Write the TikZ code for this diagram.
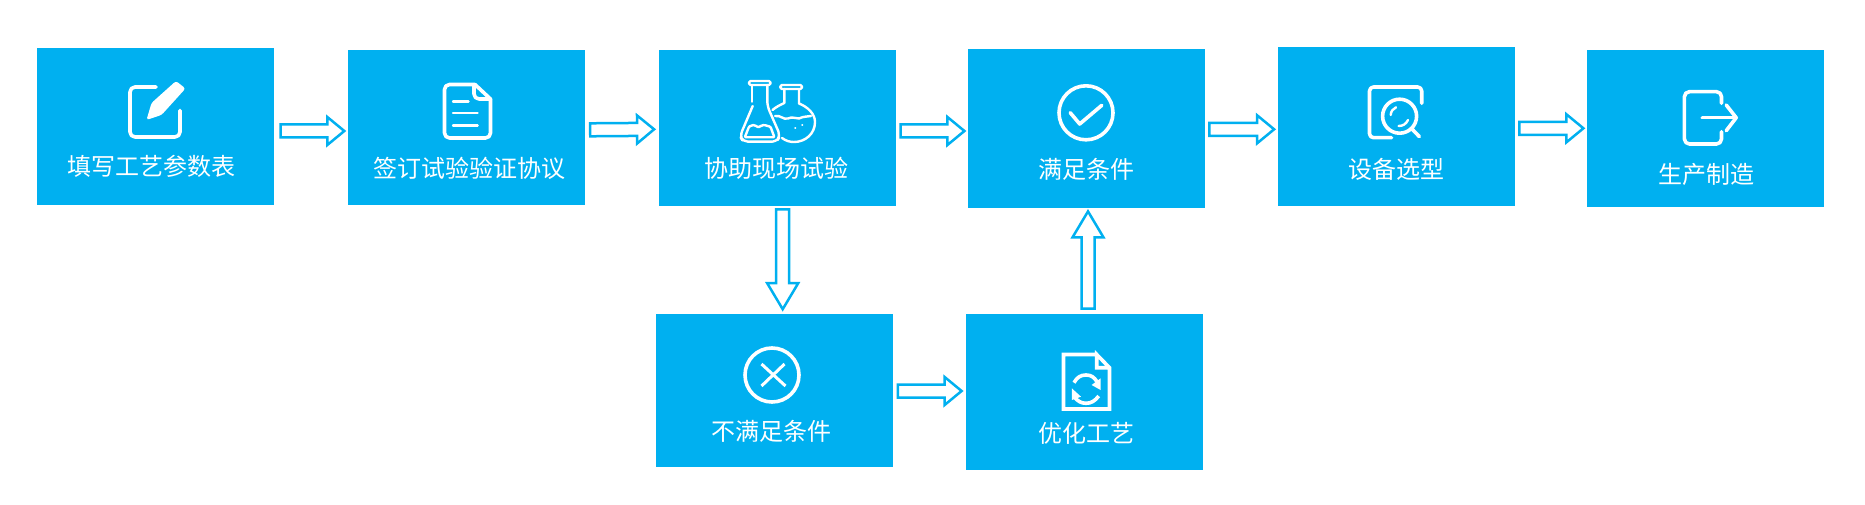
\documentclass[tikz,border=0pt]{standalone}
\usepackage{fontspec}
\newfontfamily\cjk{Noto Sans CJK SC}
\usetikzlibrary{calc}
\definecolor{flowblue}{HTML}{00B0F0}
\tikzset{
    stepbox/.style={fill=flowblue,minimum width=237pt,inner sep=0pt},
    steplabel/.style={text=white,font=\cjk\fontsize{24pt}{28pt}\selectfont,inner sep=0pt},
    iconline/.style={draw=white,line width=3.6pt,line cap=round,line join=round},
    iconthin/.style={draw=white,line width=2.4pt,line cap=round,line join=round},
    flowarrow/.style n args={2}{draw=flowblue,fill=white,line width=2.5pt,miter limit=10,
        to path={let \p1=($(\tikztotarget)!#1!(\tikztostart)$) in
            -- ($(\tikztostart)!6.5pt!90:(\tikztotarget)$)
            -- ($(\p1)!6.5pt!90:(\tikztotarget)$)
            -- ($(\p1)!#2!90:(\tikztotarget)$)
            -- (\tikztotarget)
            -- ($(\p1)!#2!-90:(\tikztotarget)$)
            -- ($(\p1)!6.5pt!-90:(\tikztotarget)$)
            -- ($(\tikztostart)!6.5pt!-90:(\tikztotarget)$)
            -- cycle}},
    hflow/.style={flowarrow={17pt}{14pt}},
    vflow/.style={flowarrow={26pt}{15.5pt}}
}
\begin{document}
\begin{tikzpicture}[x=1pt,y=-1pt]
    \path[use as bounding box,fill=white] (0,0) rectangle (1865,505);

    % 方框与文字
    \foreach \name/\x/\y/\h/\tx/\ty/\txt in {
        fill/155.5/126.3/156.6/151/166/填写工艺参数表,
        sign/466.5/127.3/154.6/469/168.7/签订试验验证协议,
        assist/777.5/127.8/155.6/776.4/168.7/协助现场试验,
        meet/1086.5/128.3/158.6/1086/169/满足条件,
        select/1396.5/126.3/158.6/1396.6/169/设备选型,
        make/1705.5/128.3/156.6/1706/174.7/生产制造,
        fail/774.5/390.3/152.6/771.7/431.7/不满足条件,
        optimize/1084.5/391.8/155.6/1086.4/433.7/优化工艺}{
        \node[stepbox,minimum height=\h pt] (\name) at (\x,\y) {};
        \node[steplabel] (\name text) at (\tx,\ty) {\txt};
    }

    % 箭头
    \draw[hflow] ($(fill.east)+(6.5,4.7)$) to ($(sign.west)+(-3.5,3.7)$);
    \draw[hflow] ($(sign.east)+(5,2.5)$) to ($(assist.west)+(-4.7,1.5)$);
    \draw[hflow] ($(assist.east)+(4.4,3.2)$) to ($(meet.west)+(-3.4,2.7)$);
    \draw[hflow] ($(meet.east)+(4.2,1)$) to ($(select.west)+(-3.7,3)$);
    \draw[hflow] ($(select.east)+(4.2,2)$) to ($(make.west)+(-3.4,0)$);
    \draw[vflow] ($(assist.south)+(5.2,3.7)$) to ($(fail.north)+(8.2,-4.6)$);
    \draw[hflow] ($(fail.east)+(4.6,0.7)$) to ($(optimize.west)+(-4.2,-0.8)$);
    \draw[vflow] ($(optimize.north)+(3.5,-5.3)$) to ($(meet.south)+(1.5,3.6)$);

    % 填写图标
    \draw[iconline,rounded corners=5pt] (156,87) -- (130,87) -- (130,137) -- (180,137) -- (180,110.5);
    \fill[white,rounded corners=2.5pt] (146.5,120) -- (151.5,103) -- (176,81) -- (185.5,88.5) -- (161.5,115) -- cycle;

    % 文件图标
    \draw[iconline,rounded corners=5pt] (475,84.5) -- (444.5,84.5) -- (444.5,138) -- (490.5,138) -- (490.5,99);
    \draw[iconline] (475,84.5) -- (490.5,99);
    \draw[iconline,rounded corners=5pt] (474,85) -- (474,99) -- (490.5,99);
    \draw[iconthin] (453,101.7) -- (468.5,101.7);
    \draw[iconthin] (453,113.3) -- (477.6,113.3);
    \draw[iconthin] (453,125.7) -- (477.6,125.7);

    % 烧瓶图标
    \draw[iconthin,rounded corners=1.5pt] (749,81) rectangle (770.5,85);
    \draw[iconthin] (752,85) -- (752,101.7);
    \draw[iconthin,rounded corners=5pt] (752.7,106) -- (740,136) -- (743,141.7) -- (776.4,141.7) -- (780.4,136) -- (767.3,106) -- (767.3,85);
    \draw[iconthin,rounded corners=1pt] (744.8,137.3) -- (749,126.7) .. controls (755,123) and (757,128) .. (760,126.5) .. controls (764,124) and (767,126) .. (770.5,126.7) -- (774.4,137.3) -- cycle;
    \draw[iconthin,rounded corners=1.5pt] (780.4,85) rectangle (802,89);
    \draw[iconthin] (784.3,89) -- (784.3,103) .. controls (780,105) and (776,107) .. (772.5,110);
    \draw[iconthin] (799,89) -- (799,103.5) .. controls (808,107) and (815,114) .. (815,122) .. controls (815,134) and (805,142) .. (794,142) .. controls (790,142) and (786,141) .. (782,138);
    \draw[iconthin] (775,116) .. controls (781,115) and (783,120) .. (788,118.5) .. controls (793,116) and (795,119) .. (799,118.5) .. controls (804,116) and (807,117) .. (811,116);
    \draw[iconthin,line width=1.5pt] (795,128) -- (795.5,128);
    \draw[iconthin,line width=1.5pt] (802,125) -- (802.5,125);

    % 满足图标
    \draw[iconline] (1086,112.8) circle[radius=27];
    \draw[iconline] (1070.2,112.7) -- (1079.7,124) -- (1101.8,105.3);

    % 选型图标
    \draw[iconline,rounded corners=4pt] (1391.5,137.7) -- (1369.5,137.7) -- (1369.5,87) -- (1421.7,87) -- (1421.7,103.3);
    \draw[iconline] (1399.6,116.2) circle[radius=17];
    \draw[iconline] (1412,129) -- (1419.4,136.7);
    \draw[iconthin] (1390.7,115) .. controls (1391,111) and (1393,109) .. (1396,107.3);
    \draw[iconthin] (1398.6,126) .. controls (1403,126) and (1406,124) .. (1408,120);

    % 生产图标
    \draw[iconline,rounded corners=5pt] (1721.5,103.3) -- (1721.5,91.7) -- (1684.4,91.7) -- (1684.4,144) -- (1721.5,144) -- (1721.5,131.7);
    \draw[iconline] (1702.3,117.7) -- (1736.2,117.7);
    \draw[iconline] (1726.2,105) -- (1736.2,117.7) -- (1726.2,130.7);

    % 不满足图标
    \draw[iconline] (772,375) circle[radius=27];
    \draw[iconline,line width=3pt,line cap=butt] (761.5,364) -- (785.5,386);
    \draw[iconline,line width=3pt,line cap=butt] (784.5,364) -- (761.5,386);

    % 优化图标
    \draw[iconline,line join=miter,line cap=butt] (1096.7,354.5) -- (1063.5,354.5) -- (1063.5,409) -- (1109.5,409) -- (1109.5,367.7) -- (1096.7,354.5) -- (1096.7,367.7) -- (1109.5,367.7);
    \draw[iconline,line cap=butt] (1074,382.7) .. controls (1077,377) and (1081,375) .. (1086,375) .. controls (1091,375) and (1094,377) .. (1097,381.7);
    \fill[white] (1091.6,385) -- (1100.6,378.3) -- (1100.6,390) -- cycle;
    \draw[iconline,line cap=butt] (1098.7,396) .. controls (1095,401) and (1091,403.3) .. (1086,403.3) .. controls (1081,403.3) and (1078,401) .. (1075,398);
    \fill[white] (1081,396.7) -- (1071.8,388.3) -- (1071.8,400) -- cycle;
\end{tikzpicture}
\end{document}
